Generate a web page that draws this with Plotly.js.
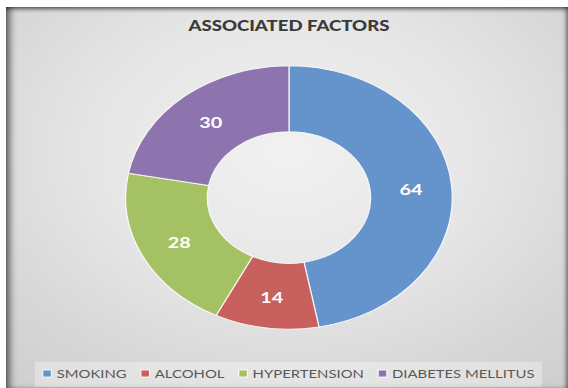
<!DOCTYPE html>
<html>
<head>
<meta charset="utf-8">
<script src="https://cdn.plot.ly/plotly-3.0.1.min.js"></script>
<style>
  html, body { margin: 0; padding: 0; background: #ffffff; overflow: hidden; }
  #stage { position: relative; width: 568px; height: 388px; }
  #frame {
    position: absolute; left: 6px; top: 7px; width: 562px; height: 381px;
    background: radial-gradient(ellipse 75% 80% at 50% 38%, #f1f1f1 0%, #e6e6e6 45%, #d6d6d6 80%, #cfcfcf 100%);
    box-shadow: inset 7px 0 7px -3px rgba(0,0,0,0.55),
                inset 0 4px 4px -2px rgba(0,0,0,0.55),
                inset -4px 0 4px -2px rgba(0,0,0,0.45);
  }
  #chart {
    position: absolute; left: 0; top: 0; width: 458px; height: 388px;
    transform: scaleX(1.2402); transform-origin: 0 0;
  }
</style>
</head>
<body>
<div id="stage">
  <div id="frame"></div>
  <div id="chart"></div>
</div>
<script>
// Associated factors (counts)
const categories = ['SMOKING', 'ALCOHOL', 'HYPERTENSION', 'DIABETES MELLITUS'];
const counts = [64, 14, 28, 30];
const sliceColors = ['#6494cb', '#c8605e', '#a4c264', '#8e74ae'];

const W = 458, H = 388;
const CX = 233;              // horizontal centre of the ring, px
const R = 132;               // ring radius, px
const TOP = 66;              // top edge of the ring, px

const trace = {
  type: 'pie',
  labels: categories,
  values: counts,
  hole: 0.5,
  sort: false,
  direction: 'clockwise',
  rotation: 0,
  marker: { colors: sliceColors, line: { color: 'rgba(255,255,255,0.85)', width: 1 } },
  textinfo: 'value',
  textposition: 'inside',
  insidetextorientation: 'horizontal',
  textfont: { family: 'Lato', size: 16, color: '#ffffff', weight: 'bold' },
  domain: {
    x: [(CX - R) / W, (CX + R) / W],
    y: [(H - TOP - 2 * R) / H, (H - TOP) / H]
  },
  hoverinfo: 'none'
};

const layout = {
  width: W, height: H,
  margin: { l: 0, r: 0, t: 0, b: 0 },
  paper_bgcolor: 'rgba(0,0,0,0)',
  plot_bgcolor: 'rgba(0,0,0,0)',
  title: {
    text: 'ASSOCIATED FACTORS',
    font: { family: 'Lato', size: 15, color: '#3a3a3a', weight: 900 },
    x: CX / W, xref: 'paper', xanchor: 'center',
    y: 1 - 26 / H, yref: 'container', yanchor: 'middle'
  },
  showlegend: true,
  legend: {
    orientation: 'h',
    x: 0, xanchor: 'left', y: 14 / H, yanchor: 'middle',
    bgcolor: 'rgba(0,0,0,0)',
    font: { family: 'Lato', size: 12, color: '#595959' },
    entrywidth: 1, entrywidthmode: 'pixels',
    traceorder: 'normal'
  },
  shapes: [{
    type: 'rect', xref: 'paper', yref: 'paper', layer: 'below',
    x0: 35 / 568, x1: 542 / 568, y0: 0, y1: 25 / H,
    fillcolor: 'rgba(255,255,255,0.32)', line: { width: 0 }
  }]
};

const parseTranslate = t => {
  const m = /translate\(\s*([-\d.e]+)(?:[ ,]+([-\d.e]+))?\s*\)/.exec(t || '');
  return m ? [+m[1], +(m[2] || 0)] : [0, 0];
};

// Horizontal offset of an element's parent chain inside the svg (unscaled px)
function parentOffsetX(el) {
  let x = 0, p = el.parentNode;
  while (p && p.tagName && p.tagName.toLowerCase() !== 'svg') {
    x += parseTranslate(p.getAttribute('transform'))[0];
    p = p.parentNode;
  }
  return x;
}

// Compact legend entries: small square, short gap to the label,
// entries packed on one row and centred under the ring.
function packLegend(gd) {
  const legend = gd.querySelector('.legend');
  if (!legend) return;
  legend.querySelectorAll('[clip-path]').forEach(n => n.removeAttribute('clip-path'));
  const items = Array.from(legend.querySelectorAll('.traces'));
  const SYM_HALF = 3.5, SYM_TO_TEXT = 7.7, AFTER_TEXT = 11.5, LEG_CX = 238;
  const widths = items.map(g => g.querySelector('.legendtext').getComputedTextLength());
  let total = 0;
  widths.forEach((w, i) => { total += SYM_HALF + SYM_TO_TEXT + w + (i < widths.length - 1 ? AFTER_TEXT + SYM_HALF : 0); });
  let cursor = LEG_CX - total / 2;           // left edge of the current square
  const ty0 = parseTranslate(items[0].getAttribute('transform'))[1];
  items.forEach((g, i) => {
    const base = parentOffsetX(g);
    const originX = cursor + SYM_HALF - 20;  // square sits at translate(20,0)
    g.setAttribute('transform', 'translate(' + (originX - base) + ',' + ty0 + ')');
    const sym = g.querySelector('.legendpie');
    if (sym) sym.setAttribute('d', 'M3.5,3.5H-3.5V-3.5H3.5Z');
    g.querySelector('.legendtext').setAttribute('x', 20 + SYM_TO_TEXT);
    cursor += SYM_HALF + SYM_TO_TEXT + widths[i] + AFTER_TEXT;
  });
}

Plotly.newPlot('chart', [trace], layout, { staticPlot: true, displayModeBar: false })
  .then(gd => packLegend(gd));
</script>
</body>
</html>
